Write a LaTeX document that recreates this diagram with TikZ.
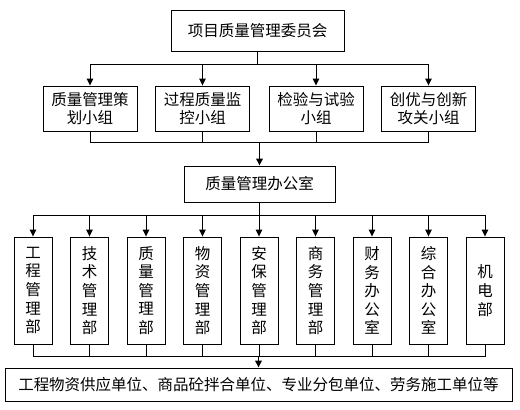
\documentclass[tikz,border=0pt]{standalone}
\usepackage{fontspec}
\setmainfont{Noto Sans CJK SC}
\usetikzlibrary{arrows.meta}
\tikzset{
  box/.style={draw,line width=0.9pt,inner sep=0pt,align=center,font=\fontsize{15.5}{18.6}\selectfont},
  arr/.style={-{Triangle[length=7pt,width=6.5pt]},line width=0.9pt},
  trunk/.style={line width=1.6pt},
}
\begin{document}
\begin{tikzpicture}[x=1pt,y=-1pt]
        \useasboundingbox (0,0) rectangle (520,410);
        \node[box,minimum width=173pt,minimum height=41pt] (top) at (257.5,30.5) {项目质量管理委员会}; % committee
        \foreach \x/\t [count=\i] in {90/{质量管理策\\划小组},202.5/{过程质量监\\控小组},316/{检验与试验\\小组},428.5/{创优与创新\\攻关小组}}
            \node[box,minimum width=94pt,minimum height=45pt] (g\i) at (\x,108.5) {\t};
        \node[box,minimum width=151pt,minimum height=36pt] (off) at (259.5,184) {质量管理办公室}; % office
        \foreach \t [count=\i] in {{工\\程\\管\\理\\部},{技\\术\\管\\理\\部},{质\\量\\管\\理\\部},{物\\资\\管\\理\\部},{安\\保\\管\\理\\部},{商\\务\\管\\理\\部},{财\\务\\办\\公\\室},{综\\合\\办\\公\\室},{机\\电\\部}}
            \node[box,minimum width=38pt,minimum height=107pt] (d\i) at (33+56.5*\i-56.5,290.5) {\t};
        \node[box,minimum width=507pt,minimum height=33pt] (bot) at (258.5,384.5) {工程物资供应单位、商品砼拌合单位、专业分包单位、劳务施工单位等};
        \draw[trunk] (top.south) -- (top.south |- 0,64); % stem
        \foreach \i in {1,...,4}
            \draw[arr] (top.south |- 0,64) -| (g\i.north);
        \foreach \i in {1,...,4}
            \draw[line width=0.9pt] (g\i.south) |- (off.north |- 0,142);
        \draw[arr,trunk] (off.north |- 0,142) -- (off.north);
        \draw[trunk] (off.south) -- (off.south |- 0,215); % stem
        \foreach \i in {1,...,9}
            \draw[arr] (off.south |- 0,215) -| (d\i.north);
        \foreach \i in {1,...,9}
            \draw[line width=0.9pt] (d\i.south) |- (bot.north |- 0,356);
        \draw[arr,trunk] (bot.north |- 0,356) -- (bot.north);
    \end{tikzpicture}
\end{document}
